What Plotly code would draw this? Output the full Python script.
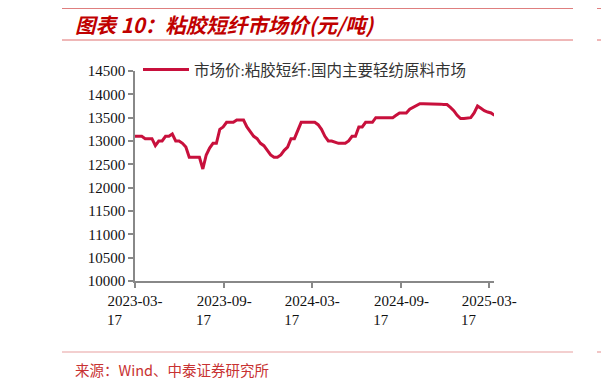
import plotly.graph_objects as go

dates = [
    "2023-03-17", "2023-03-24", "2023-03-31", "2023-04-07", "2023-04-14", "2023-04-21",
    "2023-04-28", "2023-05-05", "2023-05-12", "2023-05-19", "2023-05-26", "2023-06-02",
    "2023-06-09", "2023-06-16", "2023-06-23", "2023-06-30", "2023-07-07", "2023-07-14",
    "2023-07-21", "2023-07-28", "2023-08-04", "2023-08-11", "2023-08-18", "2023-08-25",
    "2023-09-01", "2023-09-08", "2023-09-15", "2023-09-22", "2023-09-29", "2023-10-06",
    "2023-10-13", "2023-10-20", "2023-10-27", "2023-11-03", "2023-11-10", "2023-11-17",
    "2023-11-24", "2023-12-01", "2023-12-08", "2023-12-15", "2023-12-22", "2023-12-29",
    "2024-01-05", "2024-01-12", "2024-01-19", "2024-01-26", "2024-02-02", "2024-02-09",
    "2024-02-23", "2024-03-01", "2024-03-08", "2024-03-15", "2024-03-22", "2024-03-29",
    "2024-04-05", "2024-04-12", "2024-04-19", "2024-04-26", "2024-05-03", "2024-05-10",
    "2024-05-17", "2024-05-24", "2024-05-31", "2024-06-07", "2024-06-14", "2024-06-21",
    "2024-06-28", "2024-07-05", "2024-07-12", "2024-07-19", "2024-07-26", "2024-08-02",
    "2024-08-09", "2024-08-16", "2024-08-23", "2024-08-30", "2024-09-06", "2024-09-13",
    "2024-09-20", "2024-09-27", "2024-10-04", "2024-10-11", "2024-10-18", "2024-10-25",
    "2024-11-01", "2024-11-08", "2024-11-15", "2024-11-22", "2024-11-29", "2024-12-06",
    "2024-12-13", "2024-12-20", "2024-12-27", "2025-01-03", "2025-01-10", "2025-01-17",
    "2025-01-24", "2025-02-07", "2025-02-14", "2025-02-21", "2025-02-28", "2025-03-07",
    "2025-03-14", "2025-03-21", "2025-03-28",
]
prices = [
    13100, 13100, 13100, 13050, 13050, 13050,
    12900, 13000, 13000, 13100, 13100, 13150,
    13000, 13000, 12950, 12870, 12650, 12650,
    12650, 12650, 12400, 12700, 12850, 12950,
    12950, 13250, 13300, 13400, 13400, 13400,
    13450, 13450, 13450, 13300, 13200, 13100,
    13050, 12950, 12900, 12800, 12700, 12650,
    12650, 12700, 12800, 12870, 13050, 13050,
    13400, 13400, 13400, 13400, 13400, 13350,
    13250, 13100, 13000, 13000, 12970, 12950,
    12950, 12950, 13000, 13100, 13100, 13300,
    13300, 13400, 13400, 13400, 13500, 13500,
    13500, 13500, 13500, 13500, 13550, 13600,
    13600, 13600, 13680, 13720, 13760, 13800,
    13800, 13800, 13800, 13800, 13800, 13790,
    13780, 13780, 13720, 13650, 13550, 13480,
    13480, 13500, 13600, 13750, 13700, 13650,
    13620, 13600, 13550,
]

tick_vals = ["2023-03-17", "2023-09-17", "2024-03-17", "2024-09-17", "2025-03-17"]
tick_text = [
    "2023-03-<br>17" + "\u00a0" * 11,
    "2023-09-<br>17" + "\u00a0" * 11,
    "2024-03-<br>17" + "\u00a0" * 11,
    "2024-09-<br>17" + "\u00a0" * 11,
    "2025-03-<br>17" + "\u00a0" * 11,
]
y_ticks = [10000, 10500, 11000, 11500, 12000, 12500, 13000, 13500, 14000, 14500]
y_tick_text = ["10000", "10500", "11000", "11500", "12000", "12500", "13000", "13500", "14000", "14500"]

series_name = "市场价:粘胶短纤:国内主要轻纺原料市场"
title_text = "图表 10：粘胶短纤市场价(元/吨)"
source_text = "来源：Wind、中泰证券研究所"

# the page body has an 8px margin; work in reference-screen pixels and shift
OFF = 8
W, H = 609 - OFF, 387 - OFF
L, R, T, B = 135 - OFF, 494 - OFF, 71 - OFF, 281 - OFF


def px_x(px):
    return (px - OFF - L) / (R - L)


def px_y(py):
    return (B - (py - OFF)) / (B - T)


fig = go.Figure()
fig.add_trace(go.Scatter(
    x=dates, y=prices, mode="lines", name=series_name,
    line=dict(color="#c8103c", width=3),
    showlegend=True,
))

serif = "Liberation Serif, Times New Roman, Noto Sans CJK SC, serif"
cjk = "Noto Sans CJK SC, sans-serif"

fig.update_layout(
    width=W, height=H,
    margin=dict(l=L, r=W - R, t=T, b=H - B, pad=0, autoexpand=False),
    paper_bgcolor="white", plot_bgcolor="white",
    showlegend=True,
    legend=dict(
        x=px_x(138), y=px_y(70), xanchor="left", yanchor="middle",
        font=dict(family=serif, size=15.5, color="#333333"),
        bgcolor="rgba(0,0,0,0)", borderwidth=0, itemwidth=46,
    ),
    xaxis=dict(
        type="date", range=["2023-03-17", "2025-03-27"],
        tickmode="array", tickvals=tick_vals, ticktext=tick_text,
        showgrid=False, zeroline=False,
        showline=True, linecolor="#888888", linewidth=1.5,
        ticks="outside", ticklen=5, tickcolor="#888888", tickwidth=1.5,
        tickfont=dict(family=serif, size=15, color="#111111"),
        tickangle=0,
    ),
    yaxis=dict(
        range=[10000, 14500], tickmode="array", tickvals=y_ticks, ticktext=y_tick_text,
        showgrid=False, zeroline=False,
        showline=True, linecolor="#888888", linewidth=1.5,
        ticks="outside", ticklen=5, tickcolor="#888888", tickwidth=1.5,
        tickfont=dict(family=serif, size=15, color="#111111"),
    ),
    shapes=[
        dict(type="line", xref="paper", yref="paper", x0=px_x(62), x1=px_x(573),
             y0=px_y(7), y1=px_y(7), line=dict(color="#c00000", width=3)),
        dict(type="line", xref="paper", yref="paper", x0=px_x(62), x1=px_x(573),
             y0=px_y(40), y1=px_y(40), line=dict(color="#e07070", width=1)),
        dict(type="line", xref="paper", yref="paper", x0=px_x(62), x1=px_x(573),
             y0=px_y(352), y1=px_y(352), line=dict(color="#e8a0a0", width=1.2)),
        dict(type="line", xref="paper", yref="paper", x0=px_x(597), x1=px_x(610),
             y0=px_y(7), y1=px_y(7), line=dict(color="#c00000", width=3)),
        dict(type="line", xref="paper", yref="paper", x0=px_x(597), x1=px_x(610),
             y0=px_y(40), y1=px_y(40), line=dict(color="#e07070", width=1)),
        dict(type="line", xref="paper", yref="paper", x0=px_x(597), x1=px_x(610),
             y0=px_y(352), y1=px_y(352), line=dict(color="#e8a0a0", width=1.2)),
    ],
    annotations=[
        dict(text="<b><i>" + title_text + "</i></b>", xref="paper", yref="paper",
             x=px_x(73), y=px_y(24), xanchor="left", yanchor="middle", showarrow=False,
             font=dict(family=cjk, size=20.5, color="#c00000")),
        dict(text=source_text, xref="paper", yref="paper",
             x=px_x(73), y=px_y(369), xanchor="left", yanchor="middle", showarrow=False,
             font=dict(family=cjk, size=14.5, color="#c83232")),
    ],
)

fig.write_html("out.html")
